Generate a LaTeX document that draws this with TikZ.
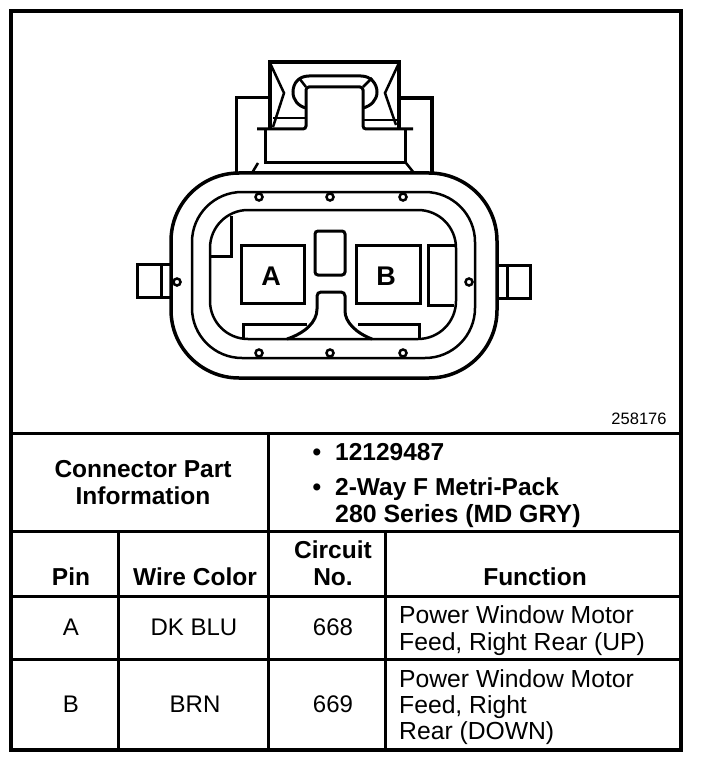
\documentclass[tikz,border=0pt]{standalone}
\usepackage{fontspec}
\setmainfont{Liberation Sans}
\usepackage{tikz}

\begin{document}
\begin{tikzpicture}[x=1pt,y=-1pt,
		heavy/.style={line width=3pt},
		light/.style={line width=2.5pt},
		rule/.style={line width=3pt},
		head/.style={anchor=base,font=\fontsize{24.5}{27}\selectfont\bfseries},
		cell/.style={anchor=base,font=\fontsize{24}{26}\selectfont},
		func/.style={anchor=base west,inner sep=0pt,font=\fontsize{24.7}{26}\selectfont}]
		\useasboundingbox (0,0) rectangle (704,762);
		% outer frame and table
		\draw[line width=3.5pt] (11,11) rectangle (681,750);
		\draw[rule] (11,433) -- (681,433);
		\draw[rule] (11,531) -- (681,531);
		\draw[rule] (11,596) -- (681,596);
		\draw[rule] (11,659) -- (681,659);
		\draw[rule] (268,433) -- (268,750);
		\draw[rule] (118,531) -- (118,750);
		\draw[rule] (385,531) -- (385,750);
		% connector body
		\draw[line width=3.5pt,rounded corners=68pt] (171,173) rectangle (497,378);
		\draw[light,rounded corners=50pt] (192,192) rectangle (475,358);
		\draw[light,rounded corners=38pt] (210,210) rectangle (456,339);
		% latch on top
		\draw[heavy] (236,173) -- (236,98) -- (270,98);
		\draw[line width=3.5pt] (399,98) -- (432,98) -- (432,173);
		\draw[line width=3.5pt] (270,129) -- (270,62) -- (399,62) -- (399,129);
		\draw[heavy,rounded corners=3pt] (257,129) -- (306,129) -- (306,87) -- (363,87) -- (363,129) -- (413,129);
		\draw[heavy] (265,129) -- (265,163) -- (405,163) -- (405,129);
		\draw[light] (258,163) -- (252,173);
		\draw[light] (406,163) -- (414,173);
		\draw[light] (270,63) -- (284,93) -- (273,127);
		\draw[light] (398,65) -- (385,93) -- (396,125);
		\draw[light] (273,118) -- (306,118);
		\draw[light] (363,120) -- (397,120);
		\draw[heavy] (306,108) .. controls (298,106) and (293,100) .. (293,92) .. controls (293,83) and (299,76) .. (309,76) -- (361,76) .. controls (371,76) and (377,84) .. (377,92) .. controls (377,100) and (371,106) .. (363,108);
		\draw[light] (299,78) -- (306,87);
		\draw[light] (372,78) -- (363,87);
		% side tabs
		\draw[heavy] (170,264) -- (137,264) -- (137,297) -- (170,297);
		\draw[heavy] (161,264) -- (161,297);
		\draw[heavy] (498,265) -- (530,265) -- (530,298) -- (498,298);
		\draw[heavy] (507,265) -- (507,298);
		% pockets
		\draw[heavy] (241,245) rectangle (304,303);
		\draw[heavy] (356,245) rectangle (420,303);
		\draw[heavy,rounded corners=3pt] (315,231) rectangle (345,275);
		\draw[heavy] (231,216) -- (231,256) -- (210,256);
		\draw[heavy] (455,245) -- (428,245) -- (428,305) -- (454,305);
		\draw[heavy] (243,338) -- (243,324) -- (307,324);
		\draw[heavy] (358,324) -- (419,324) -- (419,339);
		\draw[heavy,rounded corners=4pt] (287,339) .. controls (305,333) and (317,322) .. (317,305) -- (317,292) -- (345,292) -- (345,307) .. controls (345,322) and (356,333) .. (372,339);
		% pegs
		\foreach \x in {259,330,403} {
		  \draw[light] (\x,197) circle (3.5pt);
		  \draw[light] (\x,353) circle (3.5pt);
		}
		\draw[light] (177,282) circle (3.5pt);
		\draw[light] (469,282) circle (3.5pt);
		% labels
		\node[font=\fontsize{27}{27}\selectfont\bfseries] (pocketA) at (271,276) {A};
		\node[font=\fontsize{27}{27}\selectfont\bfseries] (pocketB) at (386,276) {B};
		\node[anchor=base,font=\fontsize{16.5}{18}\selectfont] (partNo) at (639,424) {258176};
		\node[head] (infoA) at (143,477) {Connector Part};
		\node[head] (infoB) at (143,504) {Information};
		\node[head] (bulletA) at (317,460) {\textbullet};
		\node[head] (bulletB) at (317,495) {\textbullet};
		\node[head,anchor=base west,inner sep=0pt] (partA) at (335,460) {12129487};
		\node[head,anchor=base west,inner sep=0pt] (partB) at (335,495) {2-Way F Metri-Pack};
		\node[head,anchor=base west,inner sep=0pt,font=\fontsize{24.9}{27}\selectfont\bfseries] (partC) at (335,522) {280 Series (MD GRY)};
		\node[head] (pinHead) at (71,585) {Pin};
		\node[head] (colorHead) at (195,585) {Wire Color};
		\node[head] (circuitA) at (333,558) {Circuit};
		\node[head] (circuitB) at (333,585) {No.};
		\node[head] (funcHead) at (535,585) {Function};
		\node[cell] (pinA) at (71,635) {A};
		\node[cell] (colorA) at (194,635) {DK BLU};
		\node[cell] (circA) at (333,635) {668};
		\node[func] (funcAa) at (399,623) {Power Window Motor};
		\node[func] (funcAb) at (399,650) {Feed, Right Rear (UP)};
		\node[cell] (pinB) at (71,712) {B};
		\node[cell] (colorB) at (195,712) {BRN};
		\node[cell] (circB) at (333,712) {669};
		\node[func] (funcBa) at (399,687) {Power Window Motor};
		\node[func] (funcBb) at (399,713) {Feed, Right};
		\node[func] (funcBc) at (399,739) {Rear (DOWN)};
		\end{tikzpicture}
\end{document}
